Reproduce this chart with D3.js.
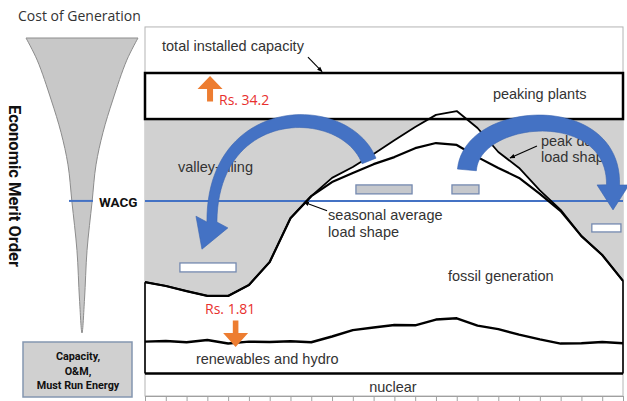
<!DOCTYPE html>
<html lang="en">
<head>
<meta charset="UTF-8">
<title>Economic Merit Order</title>
<script src="https://d3js.org/d3.v7.min.js"></script>
<style>
    body { margin: 0; background: #fff; }
    svg { display: block; }
    .lbl { font-family: "Liberation Sans", Arial, sans-serif; font-size: 14.5px; fill: #333; }
    .rs { font-family: "Open Sans", sans-serif; font-size: 14px; fill: #e8302e; }
    .bold { font-family: Roboto, sans-serif; font-weight: bold; fill: #111; }
</style>
</head>
<body>
<svg width="627" height="401"></svg>

<script>
    // hours of the day (x categories)
    const hours = [0,1,2,3,4,5,6,7,8,9,10,11,12,13,14,15,16,17,18,19,20,21,22,23];

    // load curves, % of total installed capacity
    const seasonalLoad = [34.6,33.4,31.8,30.3,30.3,33.7,40.9,54.6,61.5,65.9,68.7,71.5,
                          73.7,76.5,78.1,77.5,73.7,70.3,67.2,62.2,56.8,49.0,43.1,35.0];
    const peakDayLoad  = [34.6,33.4,31.8,30.3,30.3,33.7,40.9,54.6,61.5,67.2,70.6,74.7,
                          79.0,83.1,86.9,88.1,82.8,75.3,70.3,63.3,57.2,49.0,43.1,35.0];
    const renewables   = [16.0,16.2,15.8,16.5,15.4,16.0,15.9,16.1,15.8,17.6,19.6,20.4,
                          21.2,21.1,22.9,23.3,21.0,19.9,18.2,16.7,15.4,15.5,15.9,15.5];

    // fixed levels
    const nuclearLevel = 6;
    const peakingFloor = 85.6;
    const installedCap = 100;
    const wacgLevel = 60;
    const frameTop = 114.4;

    // energy blocks moved by valley filling (hours, levels)
    const blockStart = [10.15, 14.77, 1.68, 21.5];
    const blockEnd   = [12.85, 16.07, 4.38, 22.9];
    const blockLow   = [62.2, 62.2, 37.8, 50.3];
    const blockHigh  = [65.0, 65.0, 40.6, 52.8];
    const blockMoved = [true, true, false, false];

    // cost funnel profile (depth 0..1, relative half width)
    const funnelDepth = [0, 0.075, 0.21, 0.32, 0.43, 0.555, 0.72, 0.885, 1];
    const funnelWidth = [1, 0.8, 0.55, 0.375, 0.25, 0.18, 0.09, 0.045, 0];

    const svg = d3.select("svg");

    const x = d3.scaleLinear().domain([0, 23]).range([145, 623]);
    const y = d3.scaleLinear().domain([-1, 100]).range([396, 73]);

    const blue = "#4472c4", orange = "#ed7d31";

    // ---------- left panel ----------
    svg.append("text").attr("x", 18).attr("y", 20.5)
        .style("font-family", "'Open Sans', sans-serif").style("font-size", "14px")
        .attr("fill", "#333").text("Cost of Generation");

    const fy = d3.scaleLinear().domain([0, 1]).range([38, 333]);
    const fw = d3.scaleLinear().domain([0, 1]).range([0, 56]);
    const fcx = 82;
    const rightSide = funnelDepth.map((d, i) => [fcx + fw(funnelWidth[i]), fy(d)]);
    const leftSide = funnelDepth.map((d, i) => [fcx - fw(funnelWidth[i]), fy(d)]).reverse();
    svg.append("path")
        .attr("d", d3.line().curve(d3.curveCatmullRom)(rightSide.concat(leftSide.slice(1))) + "Z")
        .attr("fill", "#c8c8c8").attr("stroke", "#8c8c8c").attr("stroke-width", 1);

    svg.append("line").attr("x1", 69).attr("x2", 93)
        .attr("y1", y(wacgLevel)).attr("y2", y(wacgLevel))
        .attr("stroke", blue).attr("stroke-width", 2);
    svg.append("text").attr("class", "bold").attr("x", 99).attr("y", y(wacgLevel) + 6)
        .style("font-size", "13.5px").text("WACG");

    svg.append("text").attr("class", "bold")
        .attr("transform", "translate(8.5,186) rotate(90)")
        .attr("text-anchor", "middle").style("font-size", "16.5px")
        .text("Economic Merit Order");

    svg.append("rect").attr("x", 23).attr("y", 342).attr("width", 109).attr("height", 55)
        .attr("fill", "#d0d0d0").attr("stroke", "#8496b0").attr("stroke-width", 1.5);
    ["Capacity,", "O&M,", "Must Run Energy"].forEach((t, i) => {
        svg.append("text").attr("class", "bold").attr("x", 78).attr("y", 360 + i * 14.5)
            .attr("text-anchor", "middle").style("font-size", "10.8px").text(t);
    });

    // ---------- main chart ----------
    svg.append("rect").attr("x", x(0)).attr("y", y(frameTop))
        .attr("width", x(23) - x(0)).attr("height", y(-1) - y(frameTop))
        .attr("fill", "#fff").attr("stroke", "#b4b4b4").attr("stroke-width", 1);

    svg.append("clipPath").attr("id", "below-peaking")
        .append("rect").attr("x", x(0)).attr("y", y(peakingFloor))
        .attr("width", x(23) - x(0)).attr("height", y(0) - y(peakingFloor));

    svg.append("path")
        .datum(hours)
        .attr("clip-path", "url(#below-peaking)")
        .attr("d", d3.area().x(d => x(d)).y0(y(peakingFloor)).y1(d => y(peakDayLoad[d])))
        .attr("fill", "#d1d1d1");

    svg.append("g").selectAll("rect")
        .data(blockStart)
        .join("rect")
        .attr("x", (d, i) => x(d))
        .attr("width", (d, i) => x(blockEnd[i]) - x(d))
        .attr("y", (d, i) => y(blockHigh[i]))
        .attr("height", (d, i) => y(blockLow[i]) - y(blockHigh[i]))
        .attr("fill", (d, i) => blockMoved[i] ? "#c6c8cc" : "#fff")
        .attr("stroke", "#7489b0").attr("stroke-width", 1.3);

    svg.append("line").attr("x1", x(0)).attr("x2", x(23))
        .attr("y1", y(wacgLevel)).attr("y2", y(wacgLevel))
        .attr("stroke", blue).attr("stroke-width", 2);

    const curve = arr => d3.line().x(d => x(d)).y(d => y(arr[d]));
    [[peakDayLoad, 1.8], [seasonalLoad, 2.2], [renewables, 2.4]].forEach(([arr, w]) => {
        svg.append("path").datum(hours).attr("d", curve(arr))
            .attr("fill", "none").attr("stroke", "#000").attr("stroke-width", w)
            .attr("stroke-linejoin", "round");
    });

    // capacity bands
    svg.append("rect").attr("x", x(0)).attr("y", y(installedCap))
        .attr("width", x(23) - x(0)).attr("height", y(peakingFloor) - y(installedCap))
        .attr("fill", "none").attr("stroke", "#000").attr("stroke-width", 2.5);
    svg.append("line").attr("x1", x(0)).attr("x2", x(23))
        .attr("y1", y(nuclearLevel)).attr("y2", y(nuclearLevel))
        .attr("stroke", "#000").attr("stroke-width", 2.5);
    [0, 23].forEach(h => {
        svg.append("line").attr("x1", x(h)).attr("x2", x(h))
            .attr("y1", y(seasonalLoad[h])).attr("y2", y(nuclearLevel))
            .attr("stroke", "#000").attr("stroke-width", 1.6);
    });

    // hour ticks
    svg.append("g").attr("transform", `translate(0,${y(-1)})`)
        .call(d3.axisBottom(x).tickValues(hours).tickFormat("").tickSize(6).tickSizeOuter(0))
        .call(g => g.selectAll("line, path").attr("stroke", "#a0a0a0"));

    // labels (hour, level)
    const labels = [
        ["total installed capacity", 0.82, 106.9, "start"],
        ["peaking plants", 16.74, 92.0, "start"],
        ["valley-filling", 1.59, 69.0, "start"],
        ["seasonal average", 8.81, 54.0, "start"],
        ["load shape", 8.81, 48.7, "start"],
        ["peak day", 19.05, 77.2, "start"],
        ["load shape", 19.05, 72.2, "start"],
        ["fossil generation", 14.58, 35.0, "start"],
        ["renewables and hydro", 2.45, 9.0, "start"],
        ["nuclear", 11.93, 0.25, "middle"]
    ];
    svg.append("g").selectAll("text").data(labels).join("text")
        .attr("class", "lbl")
        .attr("x", d => x(d[1])).attr("y", d => y(d[2]))
        .attr("text-anchor", d => d[3]).text(d => d[0]);

    svg.append("text").attr("class", "rs").attr("x", x(3.56)).attr("y", y(90.0)).text("Rs. 34.2");
    svg.append("text").attr("class", "rs").attr("x", x(2.89)).attr("y", y(24.6)).text("Rs. 1.81");

    // thin pointers
    svg.append("defs").append("marker").attr("id", "tip")
        .attr("viewBox", "0 0 10 10").attr("refX", 9).attr("refY", 5)
        .attr("markerWidth", 5).attr("markerHeight", 5).attr("orient", "auto")
        .append("path").attr("d", "M0,1L10,5L0,9Z").attr("fill", "#000");
    const pointers = [
        [7.84, 105.0, 8.52, 100.4],
        [8.76, 56.9, 7.65, 59.6],
        [18.86, 77.2, 17.56, 73.4]
    ];
    svg.append("g").selectAll("line").data(pointers).join("line")
        .attr("x1", d => x(d[0])).attr("y1", d => y(d[1]))
        .attr("x2", d => x(d[2])).attr("y2", d => y(d[3]))
        .attr("stroke", "#000").attr("stroke-width", 1.1)
        .attr("marker-end", "url(#tip)");

    // orange block arrows: hour, tip level, head base level, tail level
    function vArrow(h, tipV, baseV, tailV, headHalf, shaftHalf) {
        const cx = x(h), t = y(tipV), b = y(baseV), e = y(tailV);
        const pts = [[cx, t], [cx + headHalf, b], [cx + shaftHalf, b], [cx + shaftHalf, e],
                     [cx - shaftHalf, e], [cx - shaftHalf, b], [cx - headHalf, b]];
        svg.append("path").attr("d", d3.line()(pts) + "Z").attr("fill", orange);
    }
    vArrow(3.13, 99.1, 95.0, 91.1, 12.5, 3);
    vArrow(4.36, 14.3, 18.7, 22.6, 12.5, 2.8);

    // blue curved arrows
    function bez(p, t) {
        const u = 1 - t;
        return [0, 1].map(k => u*u*u*p[0][k] + 3*u*u*t*p[1][k] + 3*u*t*t*p[2][k] + t*t*t*p[3][k]);
    }
    function curvedArrow(ctrl, tip, w0, w1, headHalf) {
        const p = ctrl.map(d => [x(d[0]), y(d[1])]);
        const tp = [x(tip[0]), y(tip[1])];
        const n = 48, left = [], right = [];
        for (let i = 0; i <= n; i++) {
            const t = i / n;
            const c = bez(p, t), a = bez(p, Math.max(0, t - 0.002)), b = bez(p, Math.min(1, t + 0.002));
            let dx = b[0] - a[0], dy = b[1] - a[1];
            const L = Math.hypot(dx, dy); dx /= L; dy /= L;
            const w = (w0 + (w1 - w0) * t) / 2;
            left.push([c[0] - dy * w, c[1] + dx * w]);
            right.push([c[0] + dy * w, c[1] - dx * w]);
        }
        const end = p[3];
        let hx = tp[0] - end[0], hy = tp[1] - end[1];
        const HL = Math.hypot(hx, hy); hx /= HL; hy /= HL;
        const b1 = [end[0] - hy * headHalf, end[1] + hx * headHalf];
        const b2 = [end[0] + hy * headHalf, end[1] - hx * headHalf];
        const poly = left.concat([b1, tp, b2], right.reverse());
        svg.append("path").attr("d", d3.line()(poly) + "Z")
            .attr("fill", blue).attr("stroke", "#3a64b0").attr("stroke-width", 0.6);
    }
    curvedArrow([[10.78, 72.5], [9.62, 91.5], [3.22, 91.5], [3.22, 53.4]], [2.74, 44.9], 15, 10, 17);
    curvedArrow([[15.49, 69.7], [15.73, 88.4], [22.61, 91.6], [22.52, 65.0]], [22.52, 57.2], 19, 13, 16);
</script>
</body>
</html>
